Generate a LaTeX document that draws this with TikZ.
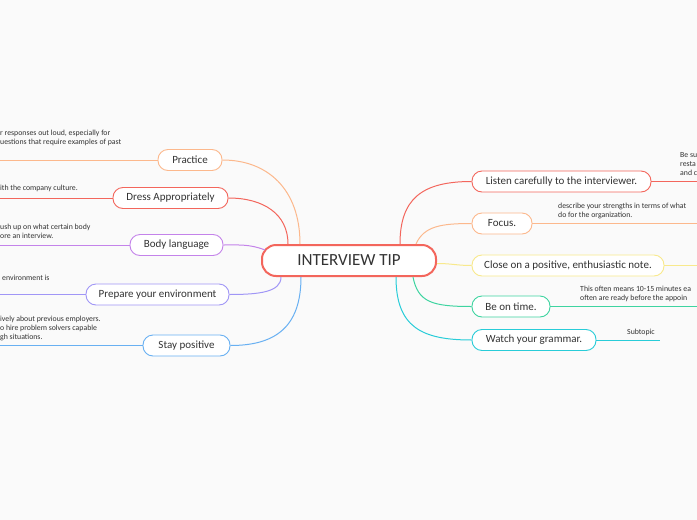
\documentclass[tikz,border=0pt]{standalone}
\usepackage{fontspec}
\setmainfont{Carlito}
\usetikzlibrary{calc}
\definecolor{bgcol}{RGB}{250,250,250}
\definecolor{textcol}{RGB}{51,51,51}
\definecolor{redcol}{RGB}{243,102,92}
\definecolor{orangecol}{RGB}{252,184,140}
\definecolor{purplecol}{RGB}{196,131,234}
\definecolor{violetcol}{RGB}{160,150,246}
\definecolor{bluecol}{RGB}{104,176,242}
\definecolor{yellowcol}{RGB}{248,233,140}
\definecolor{greencol}{RGB}{62,212,160}
\definecolor{cyancol}{RGB}{40,204,216}
\tikzset{
  root/.style={draw=redcol,line width=2pt,fill=white,rounded corners=14pt,minimum width=174pt,minimum height=31pt,inner sep=0pt,font=\fontsize{17}{19}\selectfont,text=textcol},
  topic/.style={draw=#1,line width=0.9pt,fill=white,rounded corners=10pt,minimum height=21pt,inner sep=0pt,font=\fontsize{11}{13}\selectfont,text=textcol},
  branch/.style={draw=#1,line width=1pt},
  note/.style={font=\fontsize{7.8}{9}\selectfont,text=textcol,inner sep=0pt,anchor=north west,align=left}
}
\begin{document}
\begin{tikzpicture}[x=1pt,y=-1pt]
\fill[bgcol] (0,0) rectangle (697,520);
\useasboundingbox (0,0) rectangle (697,520);
\clip (0,0) rectangle (697,520);

% central topic
\node[root] (root) at (349,260.5) {INTERVIEW TIP};

% left topics
\node[topic=orangecol,minimum width=64pt] (practice) at (190,160) {Practice};
\node[topic=redcol,minimum width=115pt] (dress) at (170.5,198) {Dress Appropriately};
\node[topic=purplecol,minimum width=93pt] (body) at (176.5,245) {Body language};
\node[topic=violetcol,minimum width=143pt] (prepare) at (157.5,294.5) {Prepare your environment};
\node[topic=bluecol,minimum width=87pt] (stay) at (186.5,345.5) {Stay positive};

% right topics
\node[topic=redcol,minimum width=179pt] (listen) at (561.5,181.5) {Listen carefully to the interviewer.};
\node[topic=orangecol,minimum width=60pt] (focus) at (502,223.5) {Focus.};
\node[topic=yellowcol,minimum width=192pt] (close) at (568,265.5) {Close on a positive, enthusiastic note.};
\node[topic=greencol,minimum width=78pt] (ontime) at (511,306.5) {Be on time.};
\node[topic=cyancol,minimum width=124pt] (grammar) at (534,340) {Watch your grammar.};

% root to topics
\draw[branch=orangecol] ($(root.north)+(-49,0)$) .. controls +(0,-55) and +(45,0) .. (practice.east);
\draw[branch=redcol] ($(root.north)+(-61,0)$) .. controls +(0,-30) and +(35,0) .. (dress.east);
\draw[branch=purplecol] ($(root.north west)+(4,6)$) .. controls +(-15,-6) and +(15,0) .. (body.east);
\draw[branch=violetcol] ($(root.south)+(-68,0)$) .. controls +(0,15) and +(30,0) .. (prepare.east);
\draw[branch=bluecol] ($(root.south)+(-48,0)$) .. controls +(0,50) and +(45,0) .. (stay.east);
\draw[branch=redcol] ($(root.north)+(51,0)$) .. controls +(0,-45) and +(-50,0) .. (listen.west);
\draw[branch=orangecol] ($(root.north)+(67,0)$) .. controls +(8,-18) and +(-30,0) .. (focus.west);
\draw[branch=yellowcol] ($(root.east)+(0,3)$) .. controls +(15,0) and +(-15,0) .. (close.west);
\draw[branch=greencol] ($(root.south)+(64,0)$) .. controls +(5,25) and +(-40,0) .. (ontime.west);
\draw[branch=cyancol] ($(root.south)+(47,0)$) .. controls +(0,50) and +(-50,0) .. (grammar.west);

% subtopic lines
\coordinate (practiceEnd) at (0,160);
\coordinate (dressEnd) at (0,198);
\coordinate (bodyEnd) at (0,245);
\coordinate (prepareEnd) at (0,294.5);
\coordinate (stayEnd) at (0,345.5);
\coordinate (listenEnd) at (697,181.5);
\coordinate (focusEnd) at (697,223.5);
\coordinate (closeEnd) at (697,265.5);
\coordinate (ontimeEnd) at (697,306.5);
\coordinate (grammarEnd) at (660,340);
\draw[branch=orangecol] (practice.west) -- (practiceEnd);
\draw[branch=redcol] (dress.west) -- (dressEnd);
\draw[branch=purplecol] (body.west) -- (bodyEnd);
\draw[branch=violetcol] (prepare.west) -- (prepareEnd);
\draw[branch=bluecol] (stay.west) -- (stayEnd);
\draw[branch=redcol] (listen.east) -- (listenEnd);
\draw[branch=orangecol] (focus.east) -- (focusEnd);
\draw[branch=yellowcol] (close.east) -- (closeEnd);
\draw[branch=greencol] (ontime.east) -- (ontimeEnd);
\draw[branch=cyancol] (grammar.east) -- (grammarEnd);

% subtopic texts
\node[note] (practiceNote) at (0,129.5) {r responses out loud, especially for\\uestions that require examples of past};
\node[note] (dressNote) at (0,184.5) {ith the company culture.};
\node[note] (bodyNote) at (0,223.5) {ush up on what certain body\\ore an interview.};
\node[note] (prepareNote) at (2,274.5) {environment is};
\node[note] (stayNote) at (0,315.5) {ively about previous employers.\\o hire problem solvers capable\\gh situations.};
\node[note] (listenNote) at (680,152.5) {Be su\\resta\\and c};
\node[note] (focusNote) at (558,202.5) {describe your strengths in terms of what\\do for the organization.};
\node[note] (ontimeNote) at (580,285.5) {This often means 10-15 minutes ea\\often are ready before the appoin};
\node[note,anchor=center] (grammarNote) at (641,332) {Subtopic};
\end{tikzpicture}
\end{document}
